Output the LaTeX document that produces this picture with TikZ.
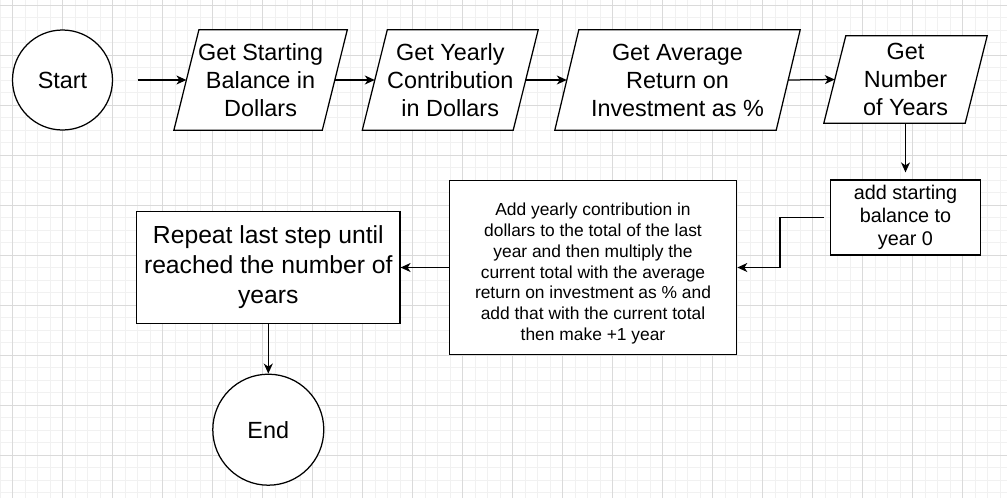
\documentclass[tikz,border=0pt]{standalone}
\usepackage{fontspec}
\setmainfont{Liberation Sans}
\usetikzlibrary{arrows.meta,calc}
\pgfdeclarelayer{gridlayer}
\pgfdeclarelayer{shapelayer}
\pgfsetlayers{gridlayer,shapelayer,main}
\definecolor{minorgrid}{HTML}{F1F1F1}
\definecolor{majorgrid}{HTML}{DADADA}
\begin{document}
\begin{tikzpicture}[x=1pt,y=-1pt,
  shapeline/.style={draw=black, line width=1.25pt, fill=white},
  conn/.style={draw=black, line width=1.25pt, -{Stealth[length=10pt,width=9pt,inset=3pt]}},
  term/.style={circle, shapeline, minimum size=#1, inner sep=0pt, font=\fontsize{23.4}{28}\selectfont},
  para/.style={inner sep=0pt, align=center, font=\fontsize{23.4}{28}\selectfont},
  boxnode/.style={rectangle, shapeline, inner sep=0pt, align=center},
]
\useasboundingbox (0,0) rectangle (1007,498);
\begin{pgfonlayer}{gridlayer}
  \begin{scope}
    \clip (0,0) rectangle (1007,498);
    \fill[white] (0,0) rectangle (1007,498);
    \foreach \i in {0,...,81} \draw[minorgrid, line width=1pt] (\i*12.5,0) -- (\i*12.5,498);
    \foreach \j in {0,...,40} \draw[minorgrid, line width=1pt] (0,5+\j*12.5) -- (1007,5+\j*12.5);
    \foreach \i in {0,...,19} \draw[majorgrid, line width=1pt] (12.5+\i*50,0) -- (12.5+\i*50,498);
    \foreach \j in {0,...,9} \draw[majorgrid, line width=1pt] (0,5+\j*50) -- (1007,5+\j*50);
  \end{scope}
\end{pgfonlayer}

\node[term=100pt] (start) at (62.5,80) {Start};
\node[para, minimum width=148pt, minimum height=100pt] (p1) at (260.6,80) {Get Starting\\Balance in\\Dollars};
\node[para, minimum width=150.5pt, minimum height=100pt] (p2) at (450.25,80) {Get Yearly\\Contribution\\in Dollars};
\node[para, minimum width=221pt, minimum height=100pt] (p3) at (677.5,80) {Get Average\\Return on\\Investment as \%};
\node[para, minimum width=141pt, minimum height=87pt] (p4) at (905.5,79.5) {Get\\Number\\of Years};

\begin{pgfonlayer}{shapelayer}
  \foreach \n/\h in {p1/12.5, p2/12.5, p3/12, p4/11} {
    \draw[shapeline] ($(\n.north west)+(\h,0)$) -- ($(\n.north east)+(\h,0)$)
      -- ($(\n.south east)-(\h,0)$) -- ($(\n.south west)-(\h,0)$) -- cycle;
  }
\end{pgfonlayer}

\node[boxnode, minimum width=150pt, minimum height=75pt, font=\fontsize{19.8}{23}\selectfont] (b1) at (905.5,217.5) {add starting\\balance to\\year 0};
\node[boxnode, minimum width=287.4pt, minimum height=173.6pt] (b2) at (593,267.5) {};
\node[align=center, inner sep=0pt, font=\fontsize{17.4}{20.8}\selectfont] (b2t) at (593,273.5) {Add yearly contribution in\\dollars to the total of the last\\year and then multiply the\\current total with the average\\return on investment as \% and\\add that with the current total\\then make +1 year};
\node[boxnode, minimum width=263.3pt, minimum height=112.3pt, font=\fontsize{24.7}{30}\selectfont] (b3) at (268.3,267.5) {Repeat last step until\\reached the number of\\years};
\node[term=111pt] (end) at (268.3,429.7) {End};

\draw[conn] ([xshift=24.5pt]start.east) -- (p1.west);
\draw[conn] (p1.east) -- (p2.west);
\draw[conn] (p2.east) -- (p3.west);
\draw[conn] (p3.east) -- (p4.west);
\draw[conn] (p4.south) -- ([yshift=7pt]b1.north);
\draw[conn] ([xshift=-6pt]b1.west) -- ++(-44,0) |- (b2.east);
\draw[conn] (b2.west) -- (b3.east);
\draw[conn] (b3.south) -- (end.north);
\end{tikzpicture}
\end{document}
